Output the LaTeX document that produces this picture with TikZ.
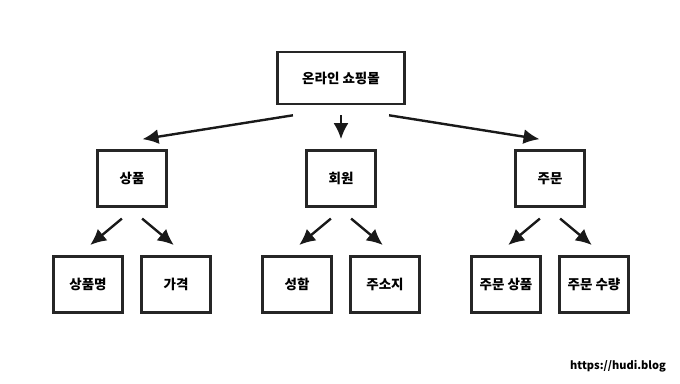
\documentclass[tikz,border=0pt]{standalone}
\usepackage{fontspec}
\setmainfont{Noto Sans CJK KR}
\usepackage{tikz}
\usetikzlibrary{arrows.meta,calc,shadows}

\tikzset{
  sketchbox/.style={draw=black!85, line width=2.2pt, fill=white,
    font=\fontsize{13.5pt}{15pt}\selectfont\bfseries,
    drop shadow={shadow xshift=1.2pt, shadow yshift=-1.2pt, fill=black!55, opacity=1}},
  rootbox/.style={sketchbox, minimum width=127pt, minimum height=52pt},
  itembox/.style={sketchbox, minimum width=69pt, minimum height=56pt},
}

\begin{document}
\begin{tikzpicture}[
    level 1/.style={level distance=100.5pt, sibling distance=209pt},
    level 2/.style={level distance=106pt, sibling distance=88pt},
    grow=down,
    edge from parent/.style={draw=black!90, line width=2.4pt, -{Latex[length=16pt,width=15pt]}},
    edge from parent path={($(\tikzparentnode.south)!.23!(\tikzchildnode.north)$)
      -- ([yshift=8pt]$(\tikzchildnode.north)!.05!(\tikzparentnode.south)$)},
  ]
  \useasboundingbox (0,0) rectangle (680pt,-383pt);
  \node[rootbox] (shop) at (341pt,-78pt) {온라인 쇼핑몰}   % racine
  child {node[itembox] (product) {상품}
    child {node[itembox] (pname) {상품명}}
    child {node[itembox] (price) {가격}}}
  child {node[itembox] (member) {회원}
    child {node[itembox] (mname) {성함}}
    child {node[itembox] (address) {주소지}}}
  child {node[itembox] (order) {주문}
    child {node[itembox] (oitem) {주문 상품}}
    child {node[itembox] (oqty) {주문 수량}}};
  \node[font=\fontsize{11pt}{13pt}\selectfont\bfseries] (blog) at (618pt,-366pt) {https://hudi.blog};
\end{tikzpicture}
\end{document}
